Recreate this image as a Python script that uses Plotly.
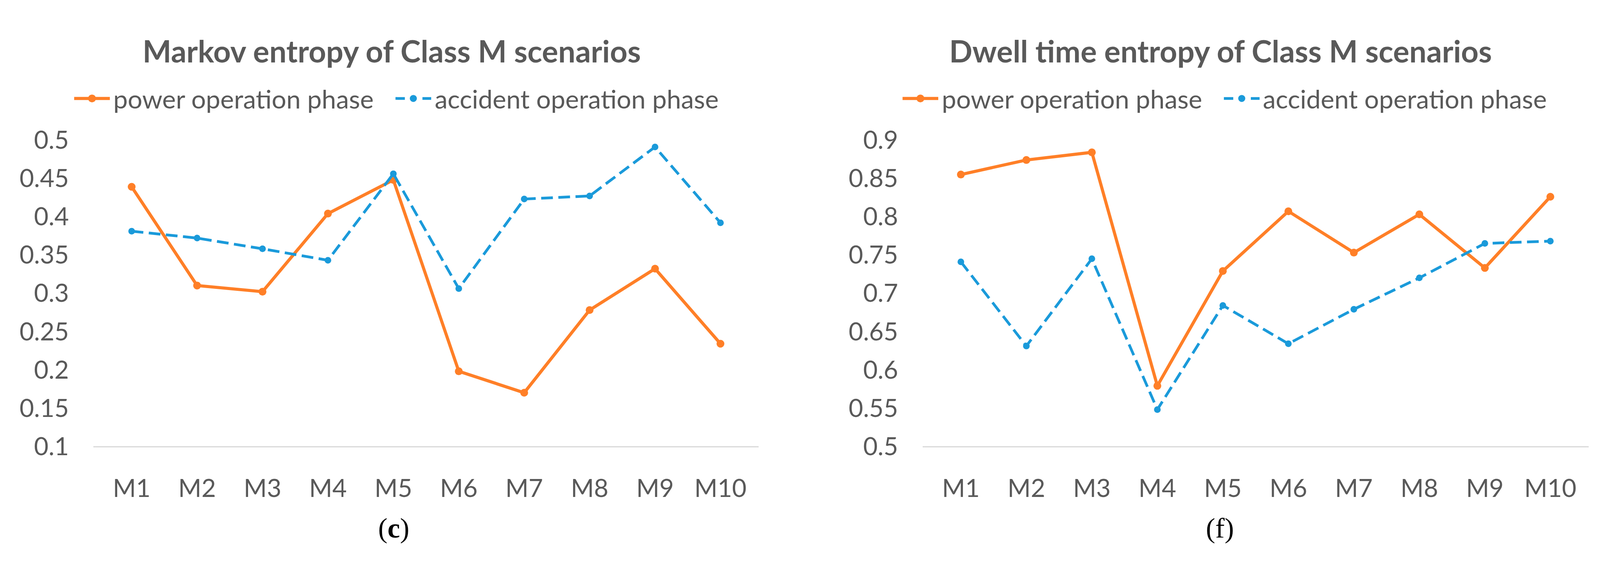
import plotly.graph_objects as go

categories = ["M1", "M2", "M3", "M4", "M5", "M6", "M7", "M8", "M9", "M10"]

markov_power = [0.439, 0.310, 0.302, 0.404, 0.448, 0.198, 0.170, 0.278, 0.332, 0.234]
markov_accident = [0.381, 0.372, 0.358, 0.343, 0.456, 0.306, 0.423, 0.427, 0.491, 0.392]

dwell_power = [0.855, 0.874, 0.884, 0.579, 0.729, 0.807, 0.753, 0.803, 0.733, 0.826]
dwell_accident = [0.741, 0.631, 0.745, 0.548, 0.684, 0.634, 0.679, 0.720, 0.765, 0.768]

markov_ticks = [0.1, 0.15, 0.2, 0.25, 0.3, 0.35, 0.4, 0.45, 0.5]
markov_ticktext = ["0.1", "0.15", "0.2", "0.25", "0.3", "0.35", "0.4", "0.45", "0.5"]
dwell_ticks = [0.5, 0.55, 0.6, 0.65, 0.7, 0.75, 0.8, 0.85, 0.9]
dwell_ticktext = ["0.5", "0.55", "0.6", "0.65", "0.7", "0.75", "0.8", "0.85", "0.9"]

titles = ["Markov entropy of Class M scenarios", "Dwell time entropy of Class M scenarios"]
panel_labels = ["(<b>c</b>)", "(f)"]
series_names = ["power operation phase", "accident operation phase"]

ORANGE = "#FF7F27"
BLUE = "#1A9ADA"
GRAY = "#595959"
FONT = "Lato"

W, H = 4196, 1455

fig = go.Figure()

def add_pair(power, accident, xa, ya):
    fig.add_trace(go.Scatter(
        x=categories, y=power, name=series_names[0], mode="lines+markers",
        line=dict(color=ORANGE, width=8), marker=dict(color=ORANGE, size=20),
        xaxis=xa, yaxis=ya, showlegend=False))
    fig.add_trace(go.Scatter(
        x=categories, y=accident, name=series_names[1], mode="lines+markers",
        line=dict(color=BLUE, width=7, dash="30px,14px"), marker=dict(color=BLUE, size=17),
        xaxis=xa, yaxis=ya, showlegend=False))

add_pair(markov_power, markov_accident, "x", "y")
add_pair(dwell_power, dwell_accident, "x2", "y2")

ydom = [1 - 1169 / H, 1 - 331 / H]
xdom1 = [238 / W, 1989 / W]
xdom2 = [2421 / W, 4174 / W]

xaxis_common = dict(
    type="category", showline=True, linecolor="#D9D9D9", linewidth=3,
    showgrid=False, zeroline=False, ticks="",
    tickfont=dict(family=FONT, size=64, color=GRAY), ticklabelstandoff=50,
)
yaxis_common = dict(
    showgrid=False, zeroline=False, showline=False, ticks="",
    tickfont=dict(family=FONT, size=64, color=GRAY), ticklabelstandoff=62,
)

# legend keys (drawn as decorations in paper space), one legend per panel
shapes = []
annotations = []
LEG_Y = 1 - 217 / H
for off in (0, 2181):
    # power operation phase: solid line with centred marker
    shapes.append(dict(type="line", xref="paper", yref="paper",
                       x0=(187 + off) / W, x1=(281 + off) / W, y0=LEG_Y, y1=LEG_Y,
                       line=dict(color=ORANGE, width=8)))
    shapes.append(dict(type="circle", xref="paper", yref="paper",
                       xsizemode="pixel", ysizemode="pixel",
                       xanchor=(234 + off) / W, yanchor=LEG_Y,
                       x0=-10, x1=10, y0=-10, y1=10,
                       fillcolor=ORANGE, line=dict(width=0)))
    annotations.append(dict(text=series_names[0], x=(288 + off) / W, y=LEG_Y,
                            xref="paper", yref="paper", showarrow=False,
                            xanchor="left", yanchor="middle",
                            font=dict(family=FONT, size=66, color=GRAY)))
    # accident operation phase: dashed line with centred marker
    shapes.append(dict(type="line", xref="paper", yref="paper",
                       x0=(1033 + off) / W, x1=(1127 + off) / W, y0=LEG_Y, y1=LEG_Y,
                       line=dict(color=BLUE, width=7, dash="24px,45px")))
    shapes.append(dict(type="circle", xref="paper", yref="paper",
                       xsizemode="pixel", ysizemode="pixel",
                       xanchor=(1080 + off) / W, yanchor=LEG_Y,
                       x0=-9, x1=9, y0=-9, y1=9,
                       fillcolor=BLUE, line=dict(width=0)))
    annotations.append(dict(text=series_names[1], x=(1134 + off) / W, y=LEG_Y,
                            xref="paper", yref="paper", showarrow=False,
                            xanchor="left", yanchor="middle",
                            font=dict(family=FONT, size=66, color=GRAY)))

for i, cx in enumerate((1023, 3205)):
    annotations.append(dict(text="<b>%s</b>" % titles[i], x=cx / W, y=1 - 86 / H,
                            xref="paper", yref="paper", showarrow=False,
                            xanchor="center", yanchor="middle",
                            font=dict(family=FONT, size=78, color=GRAY)))
for i, cx in enumerate((1028, 3204)):
    annotations.append(dict(text=panel_labels[i], x=cx / W, y=1 - 1393 / H,
                            xref="paper", yref="paper", showarrow=False,
                            xanchor="center", yanchor="middle",
                            font=dict(family="Liberation Serif", size=72, color="black")))

fig.update_layout(
    autosize=True,
    margin=dict(l=0, r=0, t=0, b=0),
    paper_bgcolor="white", plot_bgcolor="white",
    showlegend=False,
    xaxis=dict(domain=xdom1, anchor="y", **xaxis_common),
    yaxis=dict(domain=ydom, anchor="x", range=[0.1, 0.5],
               tickvals=markov_ticks, ticktext=markov_ticktext, **yaxis_common),
    xaxis2=dict(domain=xdom2, anchor="y2", **xaxis_common),
    yaxis2=dict(domain=ydom, anchor="x2", range=[0.5, 0.9],
                tickvals=dwell_ticks, ticktext=dwell_ticktext, **yaxis_common),
    shapes=shapes,
    annotations=annotations,
)

fig.write_html("out.html")
